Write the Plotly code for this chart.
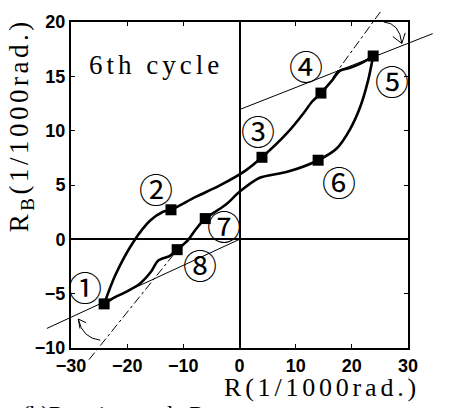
import plotly.graph_objects as go

# ---- data ----
x_ticks = [-30, -20, -10, 0, 10, 20, 30]
y_ticks = [-10, -5, 0, 5, 10, 15, 20]

# loading branch 1 -> 5
up_x = [-24.1, -22.1, -18.9, -15.9, -13.6, -12.2, -7.9, -3.5, 1.0, 4.0, 8.5, 11.4, 12.9, 14.5, 16.6, 17.9, 19.7, 21.8, 23.8]
up_y = [-5.94, -3.28, -0.24, 1.73, 2.54, 2.72, 3.88, 4.96, 6.3, 7.55, 9.79, 11.6, 12.66, 13.46, 14.7, 15.52, 15.79, 16.24, 16.87]
# unloading branch 5 -> 1
down_x = [23.8, 22.9, 21.5, 19.7, 17.3, 14.0, 8.5, 3.6, 0.1, -2.3, -3.5, -6.1, -7.9, -9.3, -11.1, -12.4, -14.5, -15.8, -17.7, -20.1, -22.5, -24.1]
down_y = [16.87, 14.63, 12.2, 10.15, 8.36, 7.28, 6.21, 5.67, 4.42, 3.25, 2.81, 1.91, 0.84, -0.15, -0.95, -1.52, -1.97, -3.01, -4.06, -4.81, -5.41, -5.94]

# marked points 1..8
mark_x = [-24.1, -12.2, 4.0, 14.5, 23.8, 14.0, -6.1, -11.1]
mark_y = [-5.94, 2.72, 7.55, 13.46, 16.87, 7.28, 1.91, -0.95]
labels = ["①", "②", "③", "④", "⑤", "⑥", "⑦", "⑧"]
label_x = [-27.5, -14.9, 3.3, 11.8, 27.1, 17.7, -2.8, -7.0]
label_y = [-4.36, 4.69, 9.97, 15.97, 14.63, 5.31, 1.28, -2.3]

# reference (tangent) lines: (x0, y0, x1, y1)
steep_lines = [(-26.8, -11.07, -10.9, -0.87), (16.6, 14.9, 25.4, 21.16)]
shallow_lines = [(-34.3, -8.2, 0.0, 0.0), (0.0, 11.94, 34.4, 18.93)]

# curved arrows: start, control, tip, arm1, arm2
arrows = [
    ((25.7, 20.0), (28.5, 19.9), (28.9, 18.03), (27.3, 18.66), (29.5, 19.0)),
    ((-24.8, -9.28), (-28.0, -9.1), (-28.7, -7.34), (-28.4, -8.21), (-27.3, -7.67)),
]

X0, X1 = -30, 30
Y0, Y1 = -10, 20


def px(x):
    return (x - X0) / (X1 - X0)


def py(y):
    return (y - Y0) / (Y1 - Y0)


fig = go.Figure()
for xs, ys in [(up_x, up_y), (down_x, down_y)]:
    fig.add_trace(go.Scatter(x=xs, y=ys, mode="lines",
                             line=dict(color="black", width=2.6, shape="spline", smoothing=0.8),
                             hoverinfo="skip", showlegend=False))
fig.add_trace(go.Scatter(x=mark_x, y=mark_y, mode="markers",
                         marker=dict(symbol="square", size=11, color="black"),
                         showlegend=False))

shapes = []
for (a, b, c, d) in steep_lines:
    shapes.append(dict(type="line", xref="paper", yref="paper",
                       x0=px(a), y0=py(b), x1=px(c), y1=py(d),
                       line=dict(color="black", width=1, dash="dashdot")))
for (a, b, c, d) in shallow_lines:
    shapes.append(dict(type="line", xref="paper", yref="paper",
                       x0=px(a), y0=py(b), x1=px(c), y1=py(d),
                       line=dict(color="black", width=1)))
for (s, cp, t, a1, a2) in arrows:
    shapes.append(dict(type="path", xref="x", yref="y",
                       path=f"M{s[0]},{s[1]} Q{cp[0]},{cp[1]} {t[0]},{t[1]}",
                       line=dict(color="black", width=1)))
    shapes.append(dict(type="path", xref="x", yref="y",
                       path=f"M{a1[0]},{a1[1]} L{t[0]},{t[1]} L{a2[0]},{a2[1]}",
                       line=dict(color="black", width=1)))

serif = "Liberation Serif"
annotations = []
for lab, lx, ly in zip(labels, label_x, label_y):
    annotations.append(dict(x=lx, y=ly, xref="x", yref="y", text=lab, showarrow=False,
                            font=dict(family="Noto Sans CJK JP", size=34, color="black"),
                            xanchor="center", yanchor="middle"))
annotations.append(dict(x=-27.1, y=16.06, xref="x", yref="y",
                        text="<span style='letter-spacing:4px'>6th cycle</span>",
                        showarrow=False, xanchor="left", yanchor="middle",
                        font=dict(family=serif, size=27, color="black")))
annotations.append(dict(x=(322 - 71) / 337, y=(348 - 389) / 335, xref="paper", yref="paper",
                        text="<span style='letter-spacing:3.8px'>R(1/1000rad.)</span>",
                        showarrow=False, xanchor="center", yanchor="middle",
                        font=dict(family=serif, size=26, color="black")))
annotations.append(dict(x=(21 - 71) / 337, y=(348 - 119) / 335, xref="paper", yref="paper",
                        text="<span style='letter-spacing:3.5px'>R<sub>B</sub>(1/1000rad.)</span>",
                        showarrow=False, textangle=-90, xanchor="center", yanchor="middle",
                        font=dict(family=serif, size=27, color="black")))
annotations.append(dict(x=(20 - 71) / 337, y=(348 - 401) / 335, xref="paper", yref="paper",
                        text="(b)Rotation angle R",
                        showarrow=False, xanchor="left", yanchor="top",
                        font=dict(family=serif, size=23, color="black")))

tickfont = dict(family="Liberation Sans", size=18, color="black", weight="bold")
axis_common = dict(showline=True, linecolor="black", linewidth=2, mirror="ticks",
                   ticks="inside", ticklen=4, tickwidth=1, tickcolor="black",
                   showgrid=False, zeroline=True, zerolinecolor="black", zerolinewidth=1.6,
                   tickfont=tickfont)

fig.update_layout(
    width=451, height=408,
    margin=dict(l=71, r=43, t=13, b=60),
    paper_bgcolor="white", plot_bgcolor="white",
    xaxis=dict(range=[X0, X1], tickvals=x_ticks, **axis_common),
    yaxis=dict(range=[Y0, Y1], tickvals=y_ticks, **axis_common),
    shapes=shapes, annotations=annotations, showlegend=False,
)

fig.write_html("out.html")
